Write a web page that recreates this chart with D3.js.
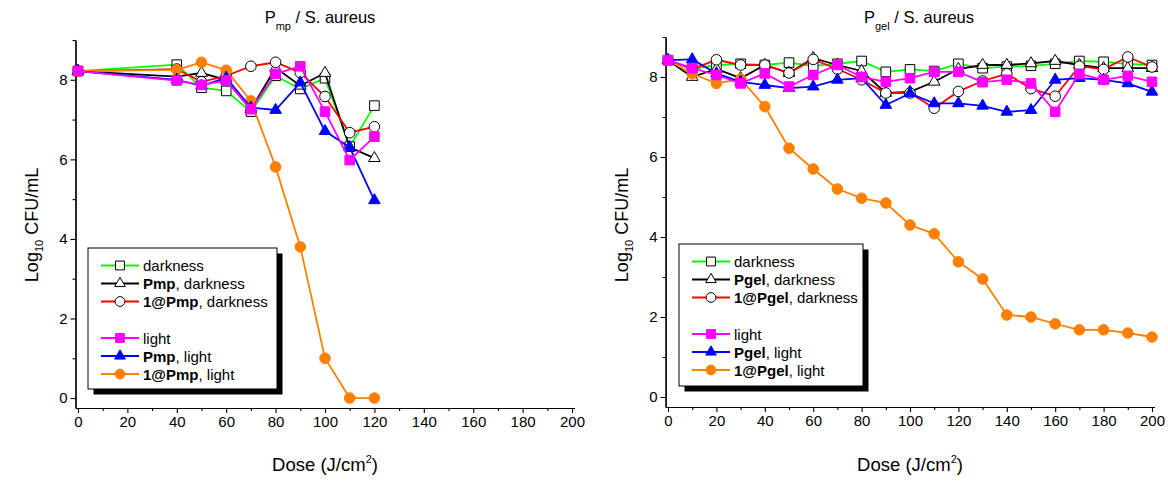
<!DOCTYPE html>
<html>
<head>
<meta charset="utf-8">
<script src="https://cdn.jsdelivr.net/npm/d3@7"></script>
<style>
  body { margin: 0; background: #fff; }
  svg { font-family: Arial, "Liberation Sans", sans-serif; }
</style>
</head>
<body>
<div id="chart"></div>
<script>
// ---- data: left panel (Pmp) ----
const dosePmp = [0, 40, 50, 60, 70, 80, 90, 100, 110, 120];
const pmpCtrlDark  = [8.22, 8.38, 7.8, 7.72, 7.2, 8.1, 7.77, 8.04, 6.32, 7.35];
const pmpDark      = [8.22, 8.08, 8.17, 8.0, 7.25, 8.3, 7.85, 8.17, 6.3, 6.03];
const onePmpDark   = [8.22, 8.27, 7.95, 8.1, 8.34, 8.44, 8.18, 7.58, 6.67, 6.82];
const pmpCtrlLight = [8.22, 7.98, 7.87, 7.98, 7.26, 8.15, 8.34, 7.2, 5.98, 6.57];
const pmpLight     = [8.22, 8.0, 7.85, 8.05, 7.3, 7.24, 7.93, 6.71, 6.3, 4.97];
const onePmpLight  = [8.22, 8.25, 8.44, 8.24, 7.47, 5.81, 3.8, 1.0, 0, 0];

// ---- data: right panel (Pgel) ----
const dosePgel = [0, 10, 20, 30, 40, 50, 60, 70, 80, 90, 100, 110, 120, 130, 140, 150, 160, 170, 180, 190, 200];
const pgelCtrlDark  = [8.42, 8.2, 8.3, 8.33, 8.3, 8.36, 8.28, 8.33, 8.4, 8.13, 8.19, 8.15, 8.33, 8.22, 8.26, 8.28, 8.33, 8.4, 8.38, 8.33, 8.3];
const pgelDark      = [8.42, 8.0, 8.2, 7.97, 8.3, 8.1, 8.47, 8.3, 8.15, 7.6, 7.63, 7.88, 8.2, 8.3, 8.3, 8.34, 8.4, 8.3, 8.22, 8.22, 8.22];
const onePgelDark   = [8.42, 8.2, 8.43, 8.3, 8.3, 8.1, 8.44, 8.2, 7.93, 7.6, 7.6, 7.22, 7.64, 7.9, 8.08, 7.71, 7.52, 8.27, 8.19, 8.5, 8.25];
const pgelCtrlLight = [8.42, 8.22, 8.05, 7.84, 8.09, 7.76, 8.05, 8.3, 8.0, 7.88, 7.97, 8.13, 8.13, 7.87, 7.93, 7.84, 7.13, 8.08, 7.93, 8.03, 7.88];
const pgelLight     = [8.42, 8.44, 8.09, 7.88, 7.8, 7.72, 7.76, 7.93, 7.97, 7.3, 7.59, 7.34, 7.34, 7.28, 7.13, 7.17, 7.93, 7.97, 7.93, 7.84, 7.63];
const onePgelLight  = [8.42, 8.08, 7.84, 7.95, 7.26, 6.22, 5.7, 5.2, 4.97, 4.85, 4.3, 4.08, 3.38, 2.95, 2.05, 2.0, 1.83, 1.68, 1.68, 1.6, 1.5];

// ---- axes ticks ----
const doseTicks = [0, 20, 40, 60, 80, 100, 120, 140, 160, 180, 200];
const doseMinor = [10, 30, 50, 70, 90, 110, 130, 150, 170, 190];
const logTicks = [0, 2, 4, 6, 8];
const logMinor = [1, 3, 5, 7, 9];

// ---- series look (order = legend order) ----
const seriesColors = ["#00ff00", "#000000", "#ff0000", "#ff00ff", "#0000ff", "#ff8000"];
const seriesSymbols = ["square", "triangle", "circle", "square", "triangle", "circle"];
const seriesFilled = [false, false, false, true, true, true];
const legendSuffix = ["darkness", ", darkness", ", darkness", "light", ", light", ", light"];
// draw order: dark series first, then orange, blue, magenta on top
const drawOrder = [0, 1, 2, 5, 4, 3];

const W = 1168, H = 481;
const svg = d3.select("#chart").append("svg").attr("width", W).attr("height", H);

const symType = { square: d3.symbolSquare, triangle: d3.symbolTriangle, circle: d3.symbolCircle };
const symSize = { square: 92, triangle: 58, circle: 88 };

function marker(sel, i, scale) {
    const s = seriesSymbols[i];
    sel.attr("d", d3.symbol().type(symType[s]).size(symSize[s] * scale)())
        .attr("fill", seriesFilled[i] ? seriesColors[i] : "#fff")
        .attr("stroke", seriesFilled[i] ? seriesColors[i] : "#000")
        .attr("stroke-width", 1);
}

function drawPanel(cfg) {
    const x = d3.scaleLinear().domain([-1, 201]).range([cfg.left, cfg.right]);
    const y = d3.scaleLinear().domain([-0.25, 9]).range([cfg.bottom, cfg.top]);
    const g = svg.append("g");

    const styleAxis = a => {
        a.selectAll("text").style("font-size", "15px").style("font-family", 'Arial, "Liberation Sans", sans-serif').attr("fill", "#000");
        a.selectAll("line").attr("stroke", "#000").attr("stroke-width", 1.1);
        a.select(".domain").attr("stroke", "#000").attr("stroke-width", 1.2);
    };

    g.append("g").attr("transform", `translate(0,${cfg.bottom})`)
        .call(d3.axisBottom(x).tickValues(doseTicks).tickSize(5).tickSizeOuter(0).tickPadding(3))
        .call(styleAxis);
    g.append("g").attr("transform", `translate(0,${cfg.bottom})`)
        .call(d3.axisBottom(x).tickValues(doseMinor).tickSize(3).tickSizeOuter(0).tickFormat(""))
        .call(styleAxis);
    g.append("g").attr("transform", `translate(${cfg.left},0)`)
        .call(d3.axisLeft(y).tickValues(logTicks).tickSize(5).tickSizeOuter(0).tickPadding(3))
        .call(styleAxis);
    g.append("g").attr("transform", `translate(${cfg.left},0)`)
        .call(d3.axisLeft(y).tickValues(logMinor).tickSize(3).tickSizeOuter(0).tickFormat(""))
        .call(styleAxis);

    // title
    const t = g.append("text").attr("x", cfg.titleX).attr("y", 23).attr("text-anchor", "middle").attr("font-size", 16.5);
    t.append("tspan").text("P");
    t.append("tspan").attr("font-size", 11).attr("dy", 7).text(cfg.sub);
    t.append("tspan").attr("dy", -7).text(" / S. aureus");

    // axis titles
    const xl = g.append("text").attr("x", (x(0) + x(200)) / 2).attr("y", 471).attr("text-anchor", "middle").attr("font-size", 18.5);
    xl.append("tspan").text("Dose (J/cm");
    xl.append("tspan").attr("font-size", 11).attr("dy", -8).text("2");
    xl.append("tspan").attr("dy", 8).text(")");

    const yl = g.append("text").attr("transform", `translate(${cfg.left - 38},225) rotate(-90)`)
        .attr("text-anchor", "middle").attr("font-size", 18);
    yl.append("tspan").text("Log");
    yl.append("tspan").attr("font-size", 11).attr("dy", 5).text("10");
    yl.append("tspan").attr("dy", -5).text(" CFU/mL");

    // series
    const line = d3.line().x(d => x(d[0])).y(d => y(d[1]));
    drawOrder.forEach(i => {
        const pts = cfg.dose.map((d, k) => [d, cfg.series[i][k]]);
        g.append("path").attr("d", line(pts)).attr("fill", "none")
            .attr("stroke", seriesColors[i]).attr("stroke-width", 1.8);
        g.append("g").selectAll("path").data(pts).enter().append("path")
            .attr("transform", d => `translate(${x(d[0])},${y(d[1])})`)
            .call(sel => marker(sel, i, 1));
    });

    // legend
    const L = cfg.legend;
    const lg = g.append("g").attr("transform", `translate(${L.x},${L.y})`);
    lg.append("rect").attr("x", 5.5).attr("y", 5.5).attr("width", L.w).attr("height", L.h).attr("fill", "#000");
    lg.append("rect").attr("x", 0).attr("y", 0).attr("width", L.w).attr("height", L.h)
        .attr("fill", "#fff").attr("stroke", "#000").attr("stroke-width", 1);
    const rowY = [17.5, 35.5, 53.5, 90, 108, 126];
    seriesColors.forEach((c, i) => {
        const ry = rowY[i];
        lg.append("line").attr("x1", 13).attr("x2", 51).attr("y1", ry).attr("y2", ry)
            .attr("stroke", c).attr("stroke-width", 1.8);
        lg.append("path").attr("transform", `translate(32,${ry})`).call(sel => marker(sel, i, 0.85));
        const tx = lg.append("text").attr("x", 55).attr("y", ry + 5.5).attr("font-size", 15);
        if (cfg.bold[i]) tx.append("tspan").attr("font-weight", "bold").text(cfg.bold[i]);
        tx.append("tspan").text(legendSuffix[i]);
    });
}

drawPanel({
    left: 75.5, right: 574.5, top: 40, bottom: 408, titleX: 320, sub: "mp",
    dose: dosePmp,
    series: [pmpCtrlDark, pmpDark, onePmpDark, pmpCtrlLight, pmpLight, onePmpLight],
    bold: ["", "Pmp", "1@Pmp", "", "Pmp", "1@Pmp"],
    legend: { x: 88, y: 248, w: 189, h: 141 }
});

drawPanel({
    left: 665.6, right: 1154.4, top: 37, bottom: 407, titleX: 919, sub: "gel",
    dose: dosePgel,
    series: [pgelCtrlDark, pgelDark, onePgelDark, pgelCtrlLight, pgelLight, onePgelLight],
    bold: ["", "Pgel", "1@Pgel", "", "Pgel", "1@Pgel"],
    legend: { x: 679, y: 244, w: 184, h: 142 }
});
</script>
</body>
</html>
